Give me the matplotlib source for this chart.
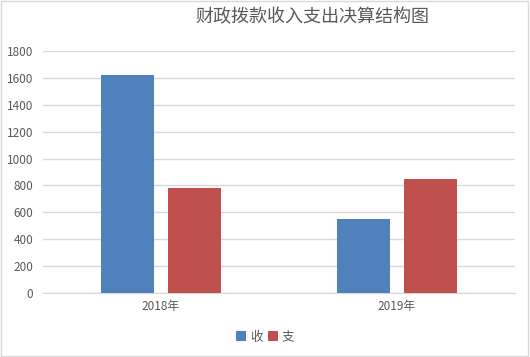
import matplotlib
matplotlib.use("Agg")
import matplotlib.pyplot as plt
from matplotlib.patches import Rectangle
import numpy as np

plt.rcParams['font.family'] = ['Noto Sans CJK SC', 'DejaVu Sans']

categories = ['2018年', '2019年']
series_names = ['收', '支']
income = [1621, 550]
expense = [781, 848]
yticks = [0, 200, 400, 600, 800, 1000, 1200, 1400, 1600, 1800]
colors = ['#4f81bd', '#c0504d']

fig = plt.figure(figsize=(5.30, 3.57), dpi=100)
ax = fig.add_axes([43/530, 1-293/357, 472/530, 242/357])

x = np.arange(len(categories))
w = 0.225
off = 0.1425
ax.bar(x - off, income, width=w, color=colors[0], label=series_names[0], zorder=3)
ax.bar(x + off, expense, width=w, color=colors[1], label=series_names[1], zorder=3)

ax.set_xlim(-0.5, 1.5)
ax.set_ylim(0, 1800)
ax.set_yticks(yticks)
ax.set_xticks(x)
ax.set_xticklabels(categories)
ax.yaxis.grid(True, color='#d9d9d9', linewidth=1, zorder=0)
ax.set_axisbelow(True)
for s in ['top', 'right', 'left']:
    ax.spines[s].set_visible(False)
ax.spines['bottom'].set_color('#d9d9d9')
ax.tick_params(axis='both', length=0, labelsize=8.5, colors='#595959')
ax.tick_params(axis='y', pad=7)
ax.tick_params(axis='x', pad=5)

fig.text(312/530, 1-17/357, '财政拨款收入支出决算结构图', ha='center', va='center',
         fontsize=13, color='#595959')

fig.legend(loc='center', bbox_to_anchor=(265/530, 1-337/357), ncol=2, frameon=False,
           fontsize=9, handlelength=0.8, handleheight=0.8, handletextpad=0.3,
           columnspacing=0.4, labelcolor='#595959')

fig.patches.append(Rectangle((0.002, 0.002), 0.995, 0.995, transform=fig.transFigure,
                             fill=False, edgecolor='#d9d9d9', linewidth=1))

fig.savefig('out.png', dpi=100)
